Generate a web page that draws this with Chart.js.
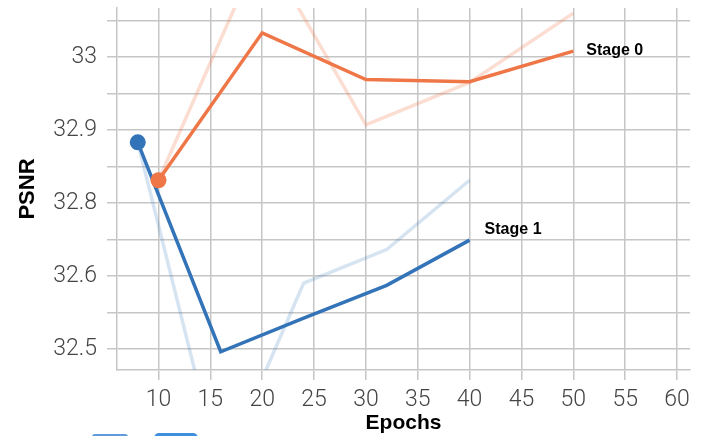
<!DOCTYPE html>
<html>
<head>
<meta charset="utf-8">
<title>PSNR vs Epochs</title>
<script src="https://cdn.jsdelivr.net/npm/chart.js@4.4.1/dist/chart.umd.min.js"></script>
<style>
  html, body { margin: 0; padding: 0; background: #fff; overflow: hidden; }
  #wrap { position: relative; width: 708px; height: 436px; }
  .swatch { position: absolute; box-sizing: border-box; }
  #sw-outline { left: 92px; top: 434px; width: 36px; height: 12px; border: 2px solid #5f9bdc; border-radius: 3px; background: #fff; }
  #sw-filled { left: 154px; top: 433px; width: 44px; height: 12px; border-radius: 5px; background: #3f8fdf; }
</style>
</head>
<body>
<div id="wrap">
  <canvas id="chart" width="708" height="436"></canvas>
  <div class="swatch" id="sw-outline"></div>
  <div class="swatch" id="sw-filled"></div>
</div>
<script>
// Stage 0 (orange) and Stage 1 (blue), solid = current run, faded = previous run
const stage0Epochs = [10, 20, 30, 40, 50];
const stage0Psnr = [32.831, 33.033, 32.969, 32.966, 33.008];
const stage0Faded = [32.831, 33.153, 32.907, 32.965, 33.060];

const stage1Epochs = [8, 16, 24, 32, 40];
const stage1Psnr = [32.883, 32.596, 32.642, 32.687, 32.749];
const stage1Faded = [32.883, 32.428, 32.690, 32.736, 32.831];

const xTicks = [10, 15, 20, 25, 30, 35, 40, 45, 50, 55, 60];
// grid lines every 0.05, labels only on the major ones (labels as printed in the source)
const yGrid = [32.6, 32.65, 32.7, 32.75, 32.8, 32.85, 32.9, 32.95, 33.0, 33.05];
const yTickValues = [33.0, 32.9, 32.8, 32.7, 32.6];
const yTickLabels = ['33', '32.9', '32.8', '32.6', '32.5'];

const ORANGE = '#ef7647';
const ORANGE_FADED = 'rgba(239, 118, 71, 0.25)';
const BLUE = '#3373b7';
const BLUE_FADED = 'rgba(51, 115, 183, 0.2)';
const GRID = '#c6c6c6';

function toPoints(xs, ys) {
  return xs.map((x, i) => ({ x: x, y: ys[i] }));
}

// Draw the "Stage N" text next to the last point of a series
const endLabels = {
  id: 'endLabels',
  afterDatasetsDraw(chart) {
    const ctx = chart.ctx;
    chart.data.datasets.forEach((ds, i) => {
      if (!ds.endLabel) return;
      const meta = chart.getDatasetMeta(i);
      const last = meta.data[meta.data.length - 1];
      ctx.save();
      ctx.font = 'bold 16px "Liberation Sans", Arial, sans-serif';
      ctx.fillStyle = '#000';
      ctx.textAlign = 'left';
      ctx.textBaseline = 'middle';
      ctx.fillText(ds.endLabel, last.x + ds.endLabelOffset[0], last.y + ds.endLabelOffset[1]);
      ctx.restore();
    });
  }
};

const tickFont = { family: 'Roboto', size: 23, weight: '300' };
const xTitleFont = { family: '"Liberation Sans", Arial, sans-serif', size: 21, weight: 'bold' };
const yTitleFont = { family: '"Liberation Sans", Arial, sans-serif', size: 22, weight: 'bold' };

new Chart(document.getElementById('chart'), {
  type: 'line',
  data: {
    datasets: [
      {
        data: toPoints(stage0Epochs, stage0Psnr),
        borderColor: ORANGE,
        backgroundColor: ORANGE,
        borderWidth: 3.5,
        pointRadius: [8, 0, 0, 0, 0],
        pointHoverRadius: 0,
        pointBorderWidth: 0,
        tension: 0,
        order: 0,
        endLabel: 'Stage 0',
        endLabelOffset: [13, 0],
      },
      {
        data: toPoints(stage1Epochs, stage1Psnr),
        borderColor: BLUE,
        backgroundColor: BLUE,
        borderWidth: 3.5,
        pointRadius: [8, 0, 0, 0, 0],
        pointHoverRadius: 0,
        pointBorderWidth: 0,
        tension: 0,
        order: 1,
        endLabel: 'Stage 1',
        endLabelOffset: [15, -10],
      },
      {
        data: toPoints(stage0Epochs, stage0Faded),
        borderColor: ORANGE_FADED,
        borderWidth: 3.5,
        pointRadius: 0,
        tension: 0,
        order: 2,
      },
      {
        data: toPoints(stage1Epochs, stage1Faded),
        borderColor: BLUE_FADED,
        borderWidth: 3.5,
        pointRadius: 0,
        tension: 0,
        order: 3,
      },
    ],
  },
  options: {
    responsive: false,
    animation: false,
    events: [],
    layout: { padding: { top: 7, right: 18, left: 0, bottom: 0 } },
    plugins: {
      legend: { display: false },
      tooltip: { enabled: false },
    },
    scales: {
      x: {
        type: 'linear',
        min: 6,
        max: 61.25,
        afterBuildTicks: (scale) => {
          scale.ticks = xTicks.map((v) => ({ value: v }));
        },
        afterFit: (scale) => {
          scale.height = 66;
          scale.paddingLeft = 0;
          scale.paddingRight = 0;
        },
        grid: { color: GRID, lineWidth: 1.5, tickLength: 10 },
        border: { display: true, color: GRID, width: 1.5 },
        ticks: {
          font: tickFont,
          color: '#444',
          padding: 6,
          autoSkip: false,
          maxRotation: 0,
        },
        title: {
          display: true,
          text: 'Epochs',
          font: xTitleFont,
          color: '#000',
          padding: { top: 0, bottom: 0 },
        },
      },
      y: {
        min: 32.571,
        max: 33.067,
        afterBuildTicks: (scale) => {
          scale.ticks = yGrid.map((v) => ({ value: v }));
        },
        afterFit: (scale) => {
          scale.width = 117;
          scale.paddingTop = 0;
          scale.paddingBottom = 0;
        },
        grid: { color: GRID, lineWidth: 1.5, tickLength: 10 },
        border: { display: true, color: GRID, width: 1.5 },
        ticks: {
          font: tickFont,
          color: '#444',
          padding: 10,
          autoSkip: false,
          callback: (value) => {
            const idx = yTickValues.findIndex((v) => Math.abs(v - value) < 1e-6);
            return idx >= 0 ? yTickLabels[idx] : '';
          },
        },
        title: {
          display: true,
          text: 'PSNR',
          font: yTitleFont,
          color: '#000',
          padding: { top: 15, bottom: 0 },
        },
      },
    },
  },
  plugins: [endLabels],
});
</script>
</body>
</html>
